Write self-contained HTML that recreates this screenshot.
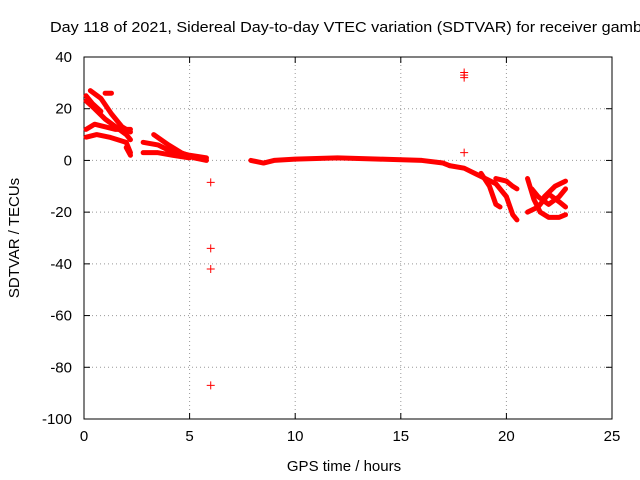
<!DOCTYPE html>
<html><head><meta charset="utf-8"><style>
body{margin:0;background:#fff}
svg{display:block;font-family:"Liberation Sans",Arial,sans-serif;font-size:15px}
</style></head><body>
<svg id="chart" width="640" height="480">
<text x="50" y="32" textLength="592" lengthAdjust="spacingAndGlyphs">Day 118 of 2021, Sidereal Day-to-day VTEC variation (SDTVAR) for receiver gamb</text>
<g id="grid"></g><g id="axes"></g><g id="data"></g>
<text x="344" y="471" text-anchor="middle">GPS time / hours</text>
<text transform="translate(19,238) rotate(-90)" text-anchor="middle">SDTVAR / TECUs</text>
</svg>
<script>
const xTicks=[0,5,10,15,20,25];
const yTicks=[40,20,0,-20,-40,-60,-80,-100];
const tracks=[
[[0.1,23],[0.5,20],[1,16],[1.5,13],[2,10],[2.2,8]],
[[0.3,27],[0.8,24],[1.3,18],[1.8,13],[2.2,11]],
[[0.1,12],[0.5,14],[1,13],[1.5,12],[2.2,12]],
[[0.1,9],[0.6,10],[1.2,9],[2,7],[2.2,3]],
[[0.1,25],[0.4,22],[0.8,19]],
[[1,26],[1.3,26]],
[[2,5],[2.2,2]],
[[2.8,7],[3.5,6],[4,4],[4.5,3],[5,2],[5.8,1]],
[[3.3,10],[4,6],[4.6,3],[5.2,1],[5.8,0]],
[[2.8,3],[3.5,3],[4.2,2],[5,1]],
[[7.9,0],[8.5,-1],[9,0],[10,0.5],[12,1],[14,0.5],[16,0],[17,-1],[17.3,-2]],
[[17.3,-2],[18,-3],[18.5,-5],[19,-7],[19.5,-9],[20,-14],[20.3,-21],[20.5,-23]],
[[18.8,-5],[19.2,-10],[19.5,-17],[19.7,-18]],
[[19.5,-7],[20,-8],[20.3,-10],[20.5,-11]],
[[21,-7],[21.3,-15],[21.6,-20],[22,-22],[22.5,-22],[22.8,-21]],
[[21.2,-11],[21.5,-14],[22,-17],[22.5,-14],[22.8,-11]],
[[21.8,-14],[22.3,-10],[22.8,-8]],
[[21,-20],[21.5,-18],[22,-13],[22.5,-16],[22.8,-18]]
];
const pointT=[6,6,6,6,18,18,18,18];
const pointV=[-8.5,-34,-42,-87,33,34,32,3];
const X0=84,X1=612,Y0=419,Y1=57;
const sx=t=>X0+(t-0)/(25-0)*(X1-X0);
const sy=v=>Y0-(v+100)/140*(Y0-Y1);
const NS="http://www.w3.org/2000/svg";
function mk(tag,attrs,parent){const e=document.createElementNS(NS,tag);for(const k in attrs)e.setAttribute(k,attrs[k]);parent.appendChild(e);return e;}
const grid=document.getElementById('grid'),axes=document.getElementById('axes'),data=document.getElementById('data');
xTicks.forEach(t=>{const x=sx(t);
 if(t>0&&t<25){const g=mk('line',{x1:x,x2:x,y1:Y1,y2:Y0,stroke:'#999','stroke-dasharray':'1,3'},grid);
 
 }
 const l=mk('text',{x:x,y:Y0+22,'text-anchor':'middle'},axes);l.textContent=t;
 
 
 mk('line',{x1:x,x2:x,y1:Y0,y2:Y0-6,stroke:'#000'},axes);mk('line',{x1:x,x2:x,y1:Y1,y2:Y1+6,stroke:'#000'},axes);});
yTicks.forEach(v=>{const y=sy(v);
 if(v>-100&&v<40){const g=mk('line',{x1:X0,x2:X1,y1:y,y2:y,stroke:'#999','stroke-dasharray':'1,3'},grid);
 
 }
 const l=mk('text',{x:X0-12,y:y+5,'text-anchor':'end'},axes);l.textContent=v;
 
 
 mk('line',{x1:X0,x2:X0+6,y1:y,y2:y,stroke:'#000'},axes);mk('line',{x1:X1,x2:X1-6,y1:y,y2:y,stroke:'#000'},axes);});
const fr=mk('rect',{x:X0,y:Y1,width:X1-X0,height:Y0-Y1,fill:'none',stroke:'#000'},axes);


tracks.forEach(tr=>{const p=mk('polyline',{points:tr.map(d=>sx(d[0])+','+sy(d[1])).join(' '),fill:'none',stroke:'#f00','stroke-width':5,'stroke-linejoin':'round','stroke-linecap':'round'},data);
 
 });
pointT.forEach((t,i)=>{const x=sx(t),y=sy(pointV[i]);
 const p=mk('path',{d:`M${x-4},${y}H${x+4}M${x},${y-4}V${y+4}`,stroke:'#f00','stroke-width':1},data);
 
 });
</script>
</body></html>
